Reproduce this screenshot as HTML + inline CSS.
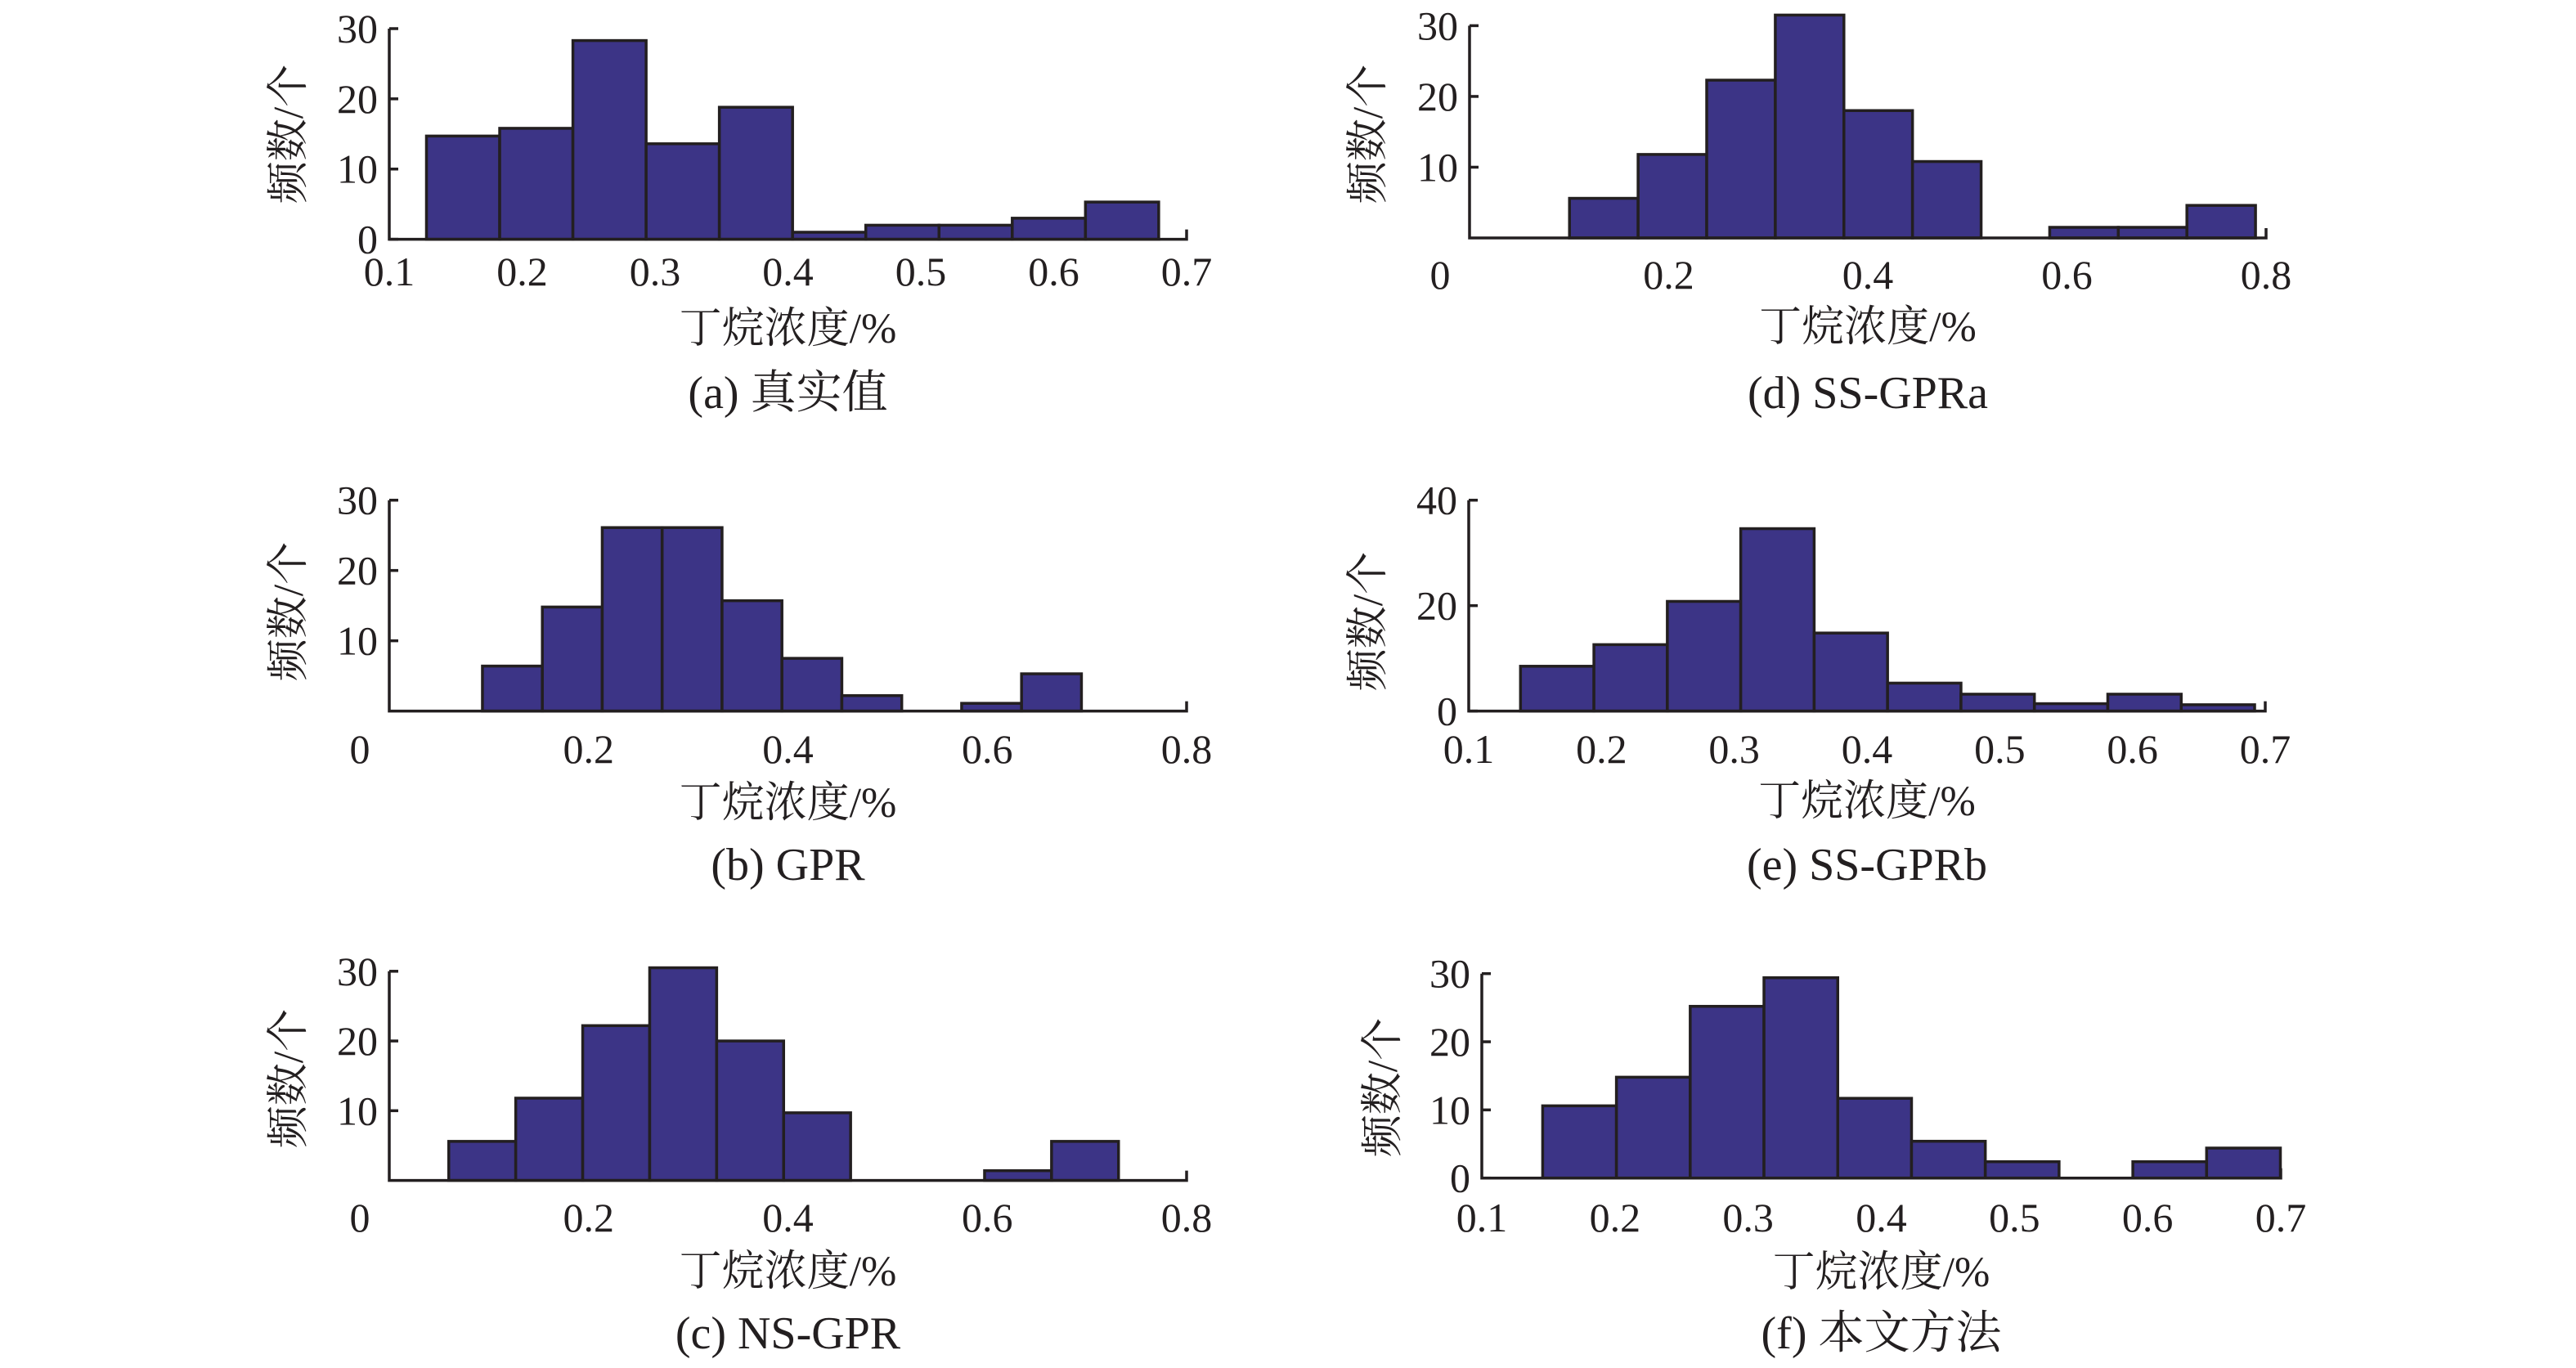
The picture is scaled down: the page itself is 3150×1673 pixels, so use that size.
<!DOCTYPE html>
<html><head><meta charset="utf-8">
<style>
html,body{margin:0;padding:0;background:#fff;}
svg{display:block;}
text{font-family:"Liberation Serif","Noto Serif CJK SC","Noto Sans CJK SC",serif;fill:#231f20;}
</style></head>
<body>
<svg id="chart" width="3150" height="1673" viewBox="0 0 3150 1673" xmlns="http://www.w3.org/2000/svg"></svg>
<script>
// ---- data (bin start, bin width, counts) ----
const countsA = [14.7, 15.8, 28.3, 13.6, 18.8, 1, 2, 2, 3, 5.3];
const startA = 0.128, widthA = 0.0551;
const countsB = [6.4, 14.8, 26.1, 26.1, 15.7, 7.5, 2.2, 0, 1.1, 5.3];
const startB = 0.0935, widthB = 0.0601;
const countsC = [5.6, 11.8, 22.2, 30.5, 20, 9.7, 0, 0, 1.4, 5.6];
const startC = 0.0597, widthC = 0.0672;
const countsD = [5.6, 11.8, 22.3, 31.5, 18, 10.8, 0, 1.5, 1.5, 4.6];
const startD = 0.1004, widthD = 0.0689;
const countsE = [8.5, 12.6, 20.8, 34.6, 14.8, 5.3, 3.2, 1.4, 3.2, 1.2];
const startE = 0.139, widthE = 0.0553;
const countsF = [10.6, 14.8, 25.2, 29.4, 11.7, 5.4, 2.4, 0, 2.4, 4.4];
const startF = 0.1457, widthF = 0.0554;
const xTicks01 = ["0.1","0.2","0.3","0.4","0.5","0.6","0.7"];
const xTicks08 = ["0","0.2","0.4","0.6","0.8"];
const captions = ["(a) 真实值","(b) GPR","(c) NS-GPR","(d) SS-GPRa","(e) SS-GPRb","(f) 本文方法"];

const NS = "http://www.w3.org/2000/svg";
const svg = document.getElementById("chart");
function mk(tag, attrs, parent){
  const e = document.createElementNS(NS, tag);
  for (const k in attrs) e.setAttribute(k, attrs[k]);
  (parent||svg).appendChild(e);
  return e;
}
const panels = [
 {id:"a", counts:countsA, start:startA, width:widthA, x0:476,x1:1451,xmin:0.1,xmax:0.7,xt:xTicks01, y0:292.6,yTop:35,ymax:30,yt:[0,10,20,30], tickY:332, xlY:401, capY:480, ylX:352, ylY:164, cap:captions[0]},
 {id:"b", counts:countsB, start:startB, width:widthB, x0:476,x1:1451,xmin:0,xmax:0.8,xt:xTicks08, y0:869.6,yTop:611.7,ymax:30,yt:[10,20,30], tickY:916, xlY:981, capY:1057, ylX:352, ylY:748, cap:captions[1]},
 {id:"c", counts:countsC, start:startC, width:widthC, x0:476,x1:1451,xmin:0,xmax:0.8,xt:xTicks08, y0:1443.6,yTop:1187.8,ymax:30,yt:[10,20,30], tickY:1489, xlY:1554, capY:1630, ylX:352, ylY:1319, cap:captions[2]},
 {id:"d", counts:countsD, start:startD, width:widthD, x0:1797,x1:2771,xmin:0,xmax:0.8,xt:xTicks08, y0:291,yTop:31.4,ymax:30,yt:[10,20,30], tickY:336, xlY:399, capY:480, ylX:1672, ylY:164, cap:captions[3]},
 {id:"e", counts:countsE, start:startE, width:widthE, x0:1796,x1:2770,xmin:0.1,xmax:0.7,xt:xTicks01, y0:869.6,yTop:611.7,ymax:40,yt:[0,20,40], tickY:916, xlY:979, capY:1057, ylX:1672, ylY:760, cap:captions[4]},
 {id:"f", counts:countsF, start:startF, width:widthF, x0:1812,x1:2789,xmin:0.1,xmax:0.7,xt:xTicks01, y0:1440.7,yTop:1190.7,ymax:30,yt:[0,10,20,30], tickY:1489, xlY:1555, capY:1630, ylX:1690, ylY:1330, cap:captions[5]}
];

panels.forEach(p=>{
  const g = mk("g",{});
  
  
  const sx = v => p.x0 + (v - p.xmin)/(p.xmax - p.xmin)*(p.x1 - p.x0);
  const sy = v => p.y0 - v/p.ymax*(p.y0 - p.yTop);
  p.counts.forEach((c,i)=>{
    if (c <= 0) return;
    const xa = sx(p.start + i*p.width), xb = sx(p.start + (i+1)*p.width);
    const r = mk("rect",{x:xa,y:sy(c),width:xb-xa,height:p.y0-sy(c),fill:"#3c3486",stroke:"#231f20","stroke-width":3.5},g);
    
    
  });
  const ax = mk("path",{d:`M${p.x0},${p.yTop} L${p.x0},${p.y0} L${p.x1},${p.y0} L${p.x1},${p.y0-12}`,fill:"none",stroke:"#231f20","stroke-width":3.5},g);
  
  
  p.yt.forEach(v=>{
    mk("line",{x1:p.x0,y1:sy(v),x2:p.x0+11,y2:sy(v),stroke:"#231f20","stroke-width":3.5},g);
    const t = mk("text",{x:p.x0-14,y:sy(v)+17,"font-size":50,"text-anchor":"end"},g);
    t.textContent = String(v);
    
    
  });
  p.xt.forEach(s=>{
    let xx = sx(parseFloat(s));
    if (s === "0") xx -= 36;
    const t = mk("text",{x:xx,y:p.tickY+17,"font-size":50,"text-anchor":"middle"},g);
    t.textContent = s;
    
    
  });
  const xl = mk("text",{x:(p.x0+p.x1)/2,y:p.xlY+18,"font-size":52,"text-anchor":"middle"},g);
  xl.textContent = "丁烷浓度/%";
  
  
  const yl = mk("text",{x:0,y:0,"font-size":52,"text-anchor":"middle",transform:`translate(${p.ylX+18},${p.ylY}) rotate(-90)`},g);
  yl.textContent = "频数/个";
  
  
  const cp = mk("text",{x:(p.x0+p.x1)/2,y:p.capY+19,"font-size":56,"text-anchor":"middle"},g);
  cp.textContent = p.cap;
  
  
});
</script>
</body></html>
